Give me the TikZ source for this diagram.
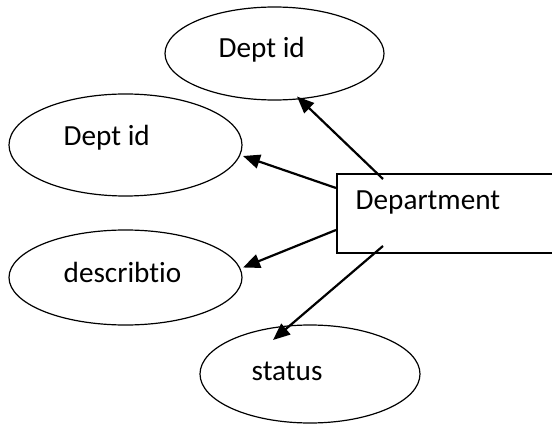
\documentclass[tikz,border=0pt]{standalone}
\usepackage{fontspec}
\setmainfont{Carlito}[Ligatures={NoCommon}]
\usetikzlibrary{shapes.geometric,arrows.meta,calc}
\tikzset{
  attr/.style={draw, ellipse, line width=1.2pt, inner sep=0pt},
  entbox/.style={draw, rectangle, line width=1.6pt, inner sep=0pt, anchor=north west},
  lbl/.style={anchor=base west, inner sep=0pt, font=\fontsize{29.2}{34}\selectfont},
  conn/.style={line width=2.2pt, -{Triangle[length=17pt,width=14pt]}}
}
\begin{document}
\begin{tikzpicture}[x=1pt,y=-1pt]
\useasboundingbox (0,0) rectangle (552,425);
\begin{scope}
\clip (0,0) rectangle (552,425);
% entity
\node[entbox, minimum width=300pt, minimum height=79pt] (dept) at (336,173) {};
\node[lbl] (deptlbl) at (355.5,210) {Department};
% attributes
\node[attr, minimum width=219pt, minimum height=93pt] (e1) at (274.5,53.5) {};
\node[lbl] (t1) at (218.5,58) {Dept id};
\node[attr, minimum width=233pt, minimum height=102pt] (e2) at (125.5,145) {};
\node[lbl] (t2) at (63.5,146) {Dept id};
\node[attr, minimum width=233pt, minimum height=95pt] (e3) at (125.5,277.5) {};
\node[lbl] (t3) at (63.5,282) {describtio};
\node[attr, minimum width=220pt, minimum height=98pt] (e4) at (310,374) {};
\node[lbl] (t4) at (251.5,380) {status};
% connector end points
\coordinate (s1) at ($(dept.north west)+(47,6)$);
\coordinate (s2) at ($(dept.north west)+(0,15)$);
\coordinate (s3) at ($(dept.north west)+(0,57)$);
\coordinate (s4) at ($(dept.north west)+(47,73)$);
\coordinate (h1) at ($(e1.center)+(22.5,43)$);
\coordinate (h2) at ($(e2.center)+(117.5,11)$);
\coordinate (h3) at ($(e3.center)+(117.5,-10)$);
\coordinate (h4) at ($(e4.center)+(-37,-34)$);
\draw[conn] (s1) -- (h1);
\draw[conn] (s2) -- (h2);
\draw[conn] (s3) -- (h3);
\draw[conn] (s4) -- (h4);
\end{scope}
\end{tikzpicture}
\end{document}
